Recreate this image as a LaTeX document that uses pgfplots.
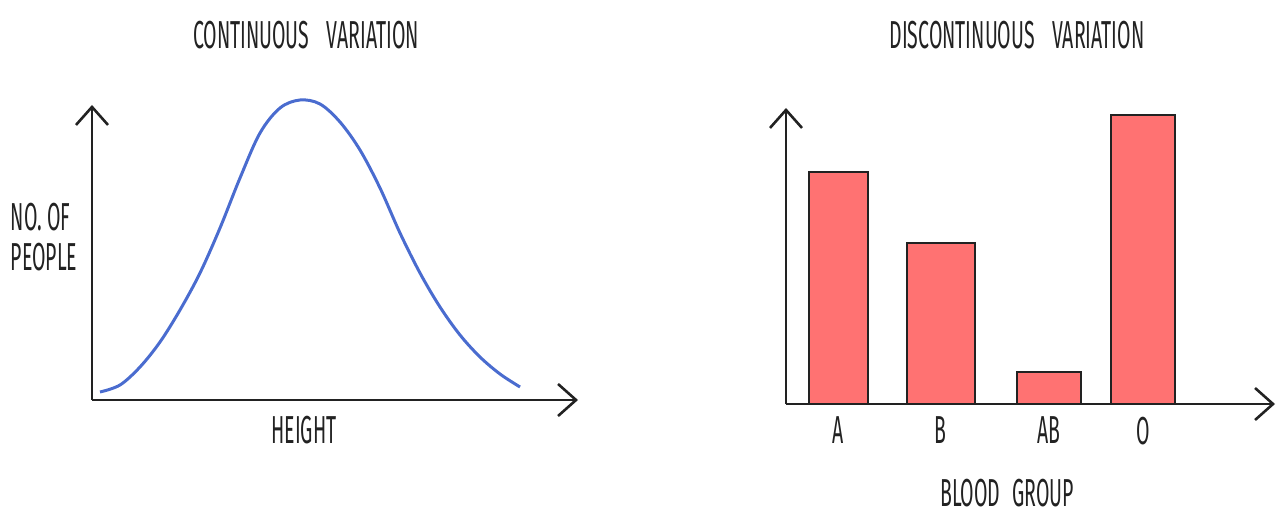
\documentclass[border=0pt]{standalone}
\usepackage{pgfplots}
\pgfplotsset{compat=1.18}
\usepackage{fontspec}
\setmainfont{Fira Sans}[FakeStretch=0.5]
\usetikzlibrary{arrows.meta}
\definecolor{barred}{HTML}{FF7272}
\definecolor{curveblue}{HTML}{4A6CCF}
\definecolor{ink}{HTML}{222222}
\begin{document}
\begin{tikzpicture}[x=0.5pt,y=0.5pt]
\path[use as bounding box] (0,0) rectangle (1284,514);
\tikzset{lbl/.style={font=\fontsize{19.5}{22}\selectfont, text=ink, inner sep=0pt}}
\begin{axis}[
  at={(92,114)}, anchor=south west,
  scale only axis, width=243pt, height=147.5pt,
  xmin=92, xmax=578, ymin=0, ymax=295,
  axis lines=left,
  axis line style={line width=1.4pt, ink, -{Straight Barb[length=9pt,width=16pt,line width=1.3pt]}},
  xtick=\empty, ytick=\empty,
  clip=false,
]
\addplot[curveblue, line width=1.5pt, smooth, tension=0.55] coordinates {
(100,8) (120,15) (140,33) (160,58) (180,90) (200,127) (220,172) (240,222)
(260,267) (280,292) (300,300) (320,296) (340,278) (360,250) (380,212)
(400,167) (420,127) (440,93) (460,65) (480,43) (500,26) (520,13)
};
\end{axis}
\node[lbl] at (306,479) {CONTINUOUS\hspace{0.45em}VARIATION};
\node[lbl] at (304,84) {HEIGHT};
\node[lbl, align=left] at (44,277) {NO. OF\\[-2pt]PEOPLE};
\begin{axis}[
  at={(786,110)}, anchor=south west,
  scale only axis, width=244.5pt, height=148pt,
  xmin=786, xmax=1275, ymin=0, ymax=296,
  axis lines=left,
  axis line style={line width=1.4pt, ink, -{Straight Barb[length=9pt,width=16pt,line width=1.3pt]}},
  xtick={838,940,1048.5,1143}, xticklabels={A,B,AB,O},
  major tick length=0pt,
  xticklabel style={font=\fontsize{19.5}{22}\selectfont, text=ink, yshift=-3pt},
  ytick=\empty,
  clip=false,
]
\addplot[ybar, bar shift=0pt, bar width=59, fill=barred, draw=ink, line width=1pt] coordinates {(838,232)};
\addplot[ybar, bar shift=0pt, bar width=68, fill=barred, draw=ink, line width=1pt] coordinates {(940.5,161)};
\addplot[ybar, bar shift=0pt, bar width=64, fill=barred, draw=ink, line width=1pt] coordinates {(1048.5,32)};
\addplot[ybar, bar shift=0pt, bar width=64, fill=barred, draw=ink, line width=1pt] coordinates {(1143.4,289)};
\end{axis}
\node[lbl] at (1017,479) {DISCONTINUOUS\hspace{0.45em}VARIATION};
\node[lbl] at (1007,21) {BLOOD\hspace{0.3em}GROUP};
\end{tikzpicture}
\end{document}
